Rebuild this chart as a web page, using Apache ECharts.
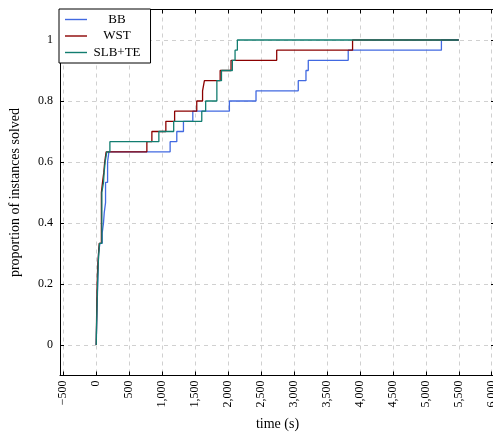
<!DOCTYPE html>
<html>
<head>
<meta charset="utf-8">
<script src="https://cdn.jsdelivr.net/npm/echarts@6.0.0/dist/echarts.min.js"></script>
<style>
  html, body { margin: 0; padding: 0; background: #fff; }
  #main { width: 493px; height: 434px; }
</style>
</head>
<body>
<div id="main"></div>
<script>
// solve times (s) of the 30 instances, sorted, per method
var seriesNames = ['BB', 'WST', 'SLB+TE'];
var bbTimes = [3, 6, 10, 14, 18, 22, 26, 30, 35, 55, 90, 110, 121, 141, 141, 141, 172, 172, 192,
  1121, 1222, 1323, 1465, 2020, 2424, 3065, 3182, 3217, 3823, 5237];
var wstTimes = [2, 4, 6, 8, 11, 14, 18, 25, 35, 45, 78, 78, 78, 78, 78, 95, 115, 128, 150,
  768, 844, 1056, 1189, 1525, 1613, 1641, 1880, 2045, 2738, 3889];
var slbTimes = [2, 5, 9, 12, 16, 20, 25, 30, 38, 50, 85, 85, 85, 85, 85, 110, 120, 135, 160,
  207, 950, 1175, 1601, 1660, 1830, 1830, 1900, 2065, 2106, 2141];
var instanceCount = 30;
var timeLimit = 5500;
var colors = ['#4169e1', '#8b0000', '#127d70'];

// 累积曲线: 每解出一个实例比例加 1/30
function buildSteps(times) {
  var pts = [[0, 0]];
  for (var i = 0; i < times.length; i++) {
    pts.push([times[i], (i + 1) / instanceCount]);
  }
  pts.push([timeLimit, times.length / instanceCount]);
  return pts;
}

var fontFamily = '"Liberation Serif", "DejaVu Serif", serif';

function xLabel(v) {
  if (Math.abs(v % 500) > 1e-6) return '';
  var s = Math.abs(v).toLocaleString('en-US');
  return v < 0 ? '\u2212' + s : s;
}
function yLabel(v) {
  if (Math.abs(v * 5 - Math.round(v * 5)) > 1e-6) return '';
  return String(Math.round(v * 10) / 10);
}

var chart = echarts.init(document.getElementById('main'));
var option = {
  animation: false,
  grid: {
    left: 60,
    right: -2,
    top: 9.5,
    bottom: 58.5,
    outerBoundsMode: 'none'
  },
  legend: {
    orient: 'vertical',
    left: 59,
    top: 9,
    data: seriesNames,
    icon: 'rect',
    itemWidth: 22,
    itemHeight: 1.4,
    itemGap: 3.5,
    padding: [4, 10, 4, 6],
    borderColor: '#000',
    borderWidth: 1,
    backgroundColor: '#fff',
    itemStyle: { borderWidth: 0 },
    formatter: function (name) { return '{c|' + name + '}'; },
    textStyle: {
      fontFamily: fontFamily,
      fontSize: 13,
      color: '#000',
      rich: {
        c: { width: 50, height: 15, align: 'center', fontFamily: fontFamily, fontSize: 13, color: '#000' }
      }
    }
  },
  xAxis: [{
    type: 'value',
    min: -550,
    max: 6050,
    splitNumber: 13,
    name: 'time (s)',
    nameLocation: 'middle',
    nameGap: 42,
    nameTextStyle: { fontFamily: fontFamily, fontSize: 14, color: '#000' },
    axisLine: { onZero: false, lineStyle: { color: '#000', width: 1 } },
    axisTick: { inside: true, length: 4, lineStyle: { color: '#000' } },
    axisLabel: {
      rotate: 90,
      margin: 5,
      showMinLabel: false,
      showMaxLabel: false,
      fontFamily: fontFamily,
      fontSize: 12,
      color: '#000',
      formatter: xLabel
    },
    splitLine: { show: true, lineStyle: { color: '#d0d0d0', type: [4, 4], width: 1 } }
  }, {
    // 上边框,带内刻度
    type: 'value',
    position: 'top',
    min: -550,
    max: 6050,
    splitNumber: 13,
    axisLine: { onZero: false, lineStyle: { color: '#000', width: 1 } },
    axisTick: { inside: true, length: 4, lineStyle: { color: '#000' } },
    axisLabel: { show: false },
    splitLine: { show: false }
  }],
  yAxis: [{
    type: 'value',
    min: -0.1,
    max: 1.1,
    splitNumber: 6,
    name: 'proportion of instances solved',
    nameLocation: 'middle',
    nameGap: 38,
    nameTextStyle: { fontFamily: fontFamily, fontSize: 14, color: '#000' },
    axisLine: { show: true, onZero: false, lineStyle: { color: '#000', width: 1 } },
    axisTick: { show: true, inside: true, length: 4, lineStyle: { color: '#000' } },
    axisLabel: {
      margin: 7,
      showMinLabel: false,
      showMaxLabel: false,
      fontFamily: fontFamily,
      fontSize: 12,
      color: '#000',
      formatter: yLabel
    },
    splitLine: { show: true, lineStyle: { color: '#d0d0d0', type: [4, 4], width: 1 } }
  }, {
    type: 'value',
    position: 'right',
    min: -0.1,
    max: 1.1,
    splitNumber: 6,
    axisLine: { show: true, onZero: false, lineStyle: { color: '#000', width: 1 } },
    axisTick: { show: true, inside: true, length: 4, lineStyle: { color: '#000' } },
    axisLabel: { show: false },
    splitLine: { show: false }
  }],
  series: [
    { name: 'BB', data: buildSteps(bbTimes) },
    { name: 'WST', data: buildSteps(wstTimes) },
    { name: 'SLB+TE', data: buildSteps(slbTimes) }
  ].map(function (s, i) {
    return {
      name: s.name,
      type: 'line',
      step: 'end',
      xAxisIndex: 0,
      yAxisIndex: 0,
      symbol: 'none',
      data: s.data,
      itemStyle: { color: colors[i] },
      lineStyle: { color: colors[i], width: 1.3 }
    };
  })
};
chart.setOption(option);
</script>
</body>
</html>
